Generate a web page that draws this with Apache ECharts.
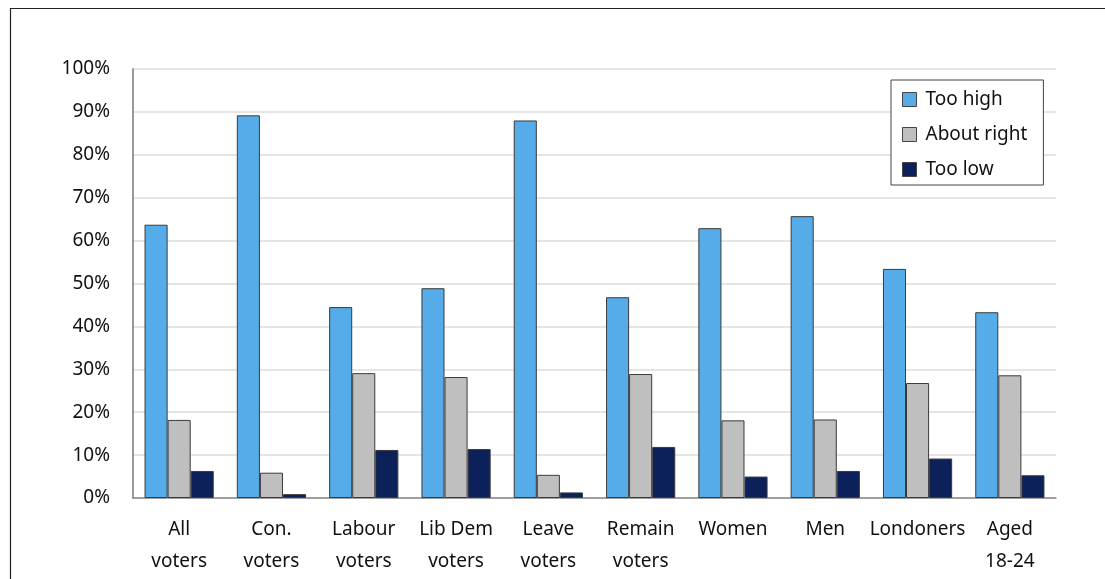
<!DOCTYPE html>
<html>
<head>
<meta charset="utf-8">
<script src="https://cdn.jsdelivr.net/npm/echarts@6/dist/echarts.min.js"></script>
<style>
  html, body { margin: 0; padding: 0; background: #fff; }
  #chart { width: 1105px; height: 579px; }
</style>
</head>
<body>
<div id="chart"></div>
<script>
// Groups of respondents along the x axis
const categories = [
  'All\nvoters', 'Con.\nvoters', 'Labour\nvoters', 'Lib Dem\nvoters', 'Leave\nvoters',
  'Remain\nvoters', 'Women', 'Men', 'Londoners', 'Aged\n18-24'
];

// Share of each group answering (percent)
const tooHigh    = [63.7, 89.2, 44.5, 48.9, 88.0, 46.8, 62.9, 65.7, 53.4, 43.3];
const aboutRight = [18.2, 5.9, 29.1, 28.2, 5.4, 28.9, 18.1, 18.3, 26.8, 28.6];
const tooLow     = [6.3, 0.9, 11.2, 11.4, 1.3, 11.9, 5.0, 6.3, 9.2, 5.3];

const seriesNames = ['Too high', 'About right', 'Too low'];
const yTicks = { min: 0, max: 100, step: 10 };

const FONT = '"Noto Sans", "Open Sans", sans-serif';
const colors = ['#55ACE8', '#BFBFBF', '#0C2159'];

const chart = echarts.init(document.getElementById('chart'), null, { renderer: 'canvas' });

const values = [tooHigh, aboutRight, tooLow];

chart.setOption({
  animation: false,
  backgroundColor: '#fff',
  textStyle: { fontFamily: FONT },
  graphic: [{
    type: 'rect',
    shape: { x: 10.5, y: 8.5, width: 1200, height: 700 },
    style: { fill: 'none', stroke: '#222', lineWidth: 1.2 },
    silent: true,
    z: -10
  }],
  grid: { left: 133, right: 49, top: 69, bottom: 81, containLabel: false },
  legend: {
    orient: 'vertical',
    left: 891,
    top: 80,
    itemWidth: 14,
    itemHeight: 14,
    itemGap: 14,
    padding: [9, 16, 5, 11],
    borderColor: '#444',
    borderWidth: 1,
    backgroundColor: '#fff',
    icon: 'rect',
    textStyle: { fontFamily: FONT, fontSize: 19, lineHeight: 21, color: '#111', padding: [0, 0, 0, 4] },
    itemStyle: { borderColor: '#444', borderWidth: 1 },
    data: seriesNames
  },
  xAxis: {
    type: 'category',
    data: categories,
    axisLine: { show: true, lineStyle: { color: '#888', width: 1.5 } },
    axisTick: { show: false },
    axisLabel: {
      interval: 0,
      margin: 16,
      fontFamily: FONT,
      fontSize: 19,
      color: '#111',
      lineHeight: 32
    }
  },
  yAxis: {
    type: 'value',
    min: yTicks.min,
    max: yTicks.max,
    interval: yTicks.step,
    axisLine: { show: true, lineStyle: { color: '#777', width: 1.5 } },
    axisTick: { show: false },
    splitLine: { lineStyle: { color: '#dcdcdc', width: 1.5 } },
    axisLabel: {
      margin: 23,
      fontFamily: FONT,
      fontSize: 19,
      color: '#111',
      formatter: v => v + '%'
    }
  },
  series: seriesNames.map((name, i) => ({
    name,
    type: 'bar',
    data: values[i],
    barGap: '0%',
    barCategoryGap: '25%',
    itemStyle: { color: colors[i], borderColor: '#3a3a3a', borderWidth: 1 }
  }))
});
</script>
</body>
</html>
